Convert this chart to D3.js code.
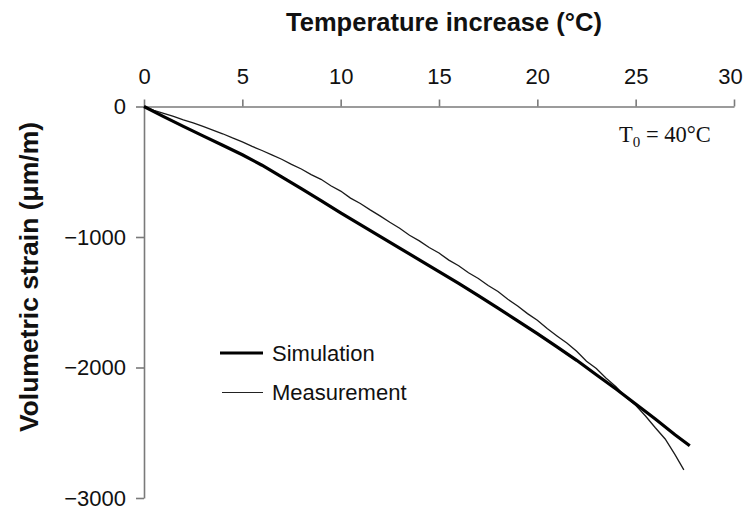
<!DOCTYPE html>
<html>
<head>
<meta charset="utf-8">
<script src="https://cdn.jsdelivr.net/npm/d3@7"></script>
<style>
  html, body { margin: 0; padding: 0; background: #fff; }
  svg { display: block; }
</style>
</head>
<body>
<svg id="chart" width="745" height="510"></svg>
<script>
// ---- data ----
const xTicks = [0, 5, 10, 15, 20, 25, 30];
const yTicks = [0, -1000, -2000, -3000];

const simT = [0, 1, 2, 3, 4, 5, 6, 7, 8, 9, 10, 11, 12, 13, 14, 15, 16, 17, 18, 19, 20, 21, 22, 23, 24, 25, 26, 27, 27.75];
const simStrain = [0, -78, -152, -225, -297, -370, -450, -540, -630, -722, -815, -905, -995, -1085, -1175, -1265, -1355, -1450, -1545, -1642, -1740, -1842, -1945, -2055, -2165, -2280, -2395, -2515, -2600];

const measT = [0, 0.5, 1, 1.5, 2, 2.5, 3, 3.5, 4, 4.5, 5, 5.5, 6, 6.5, 7, 7.5, 8, 8.5, 9, 9.5, 10, 10.5, 11, 11.5, 12, 12.5, 13, 13.5, 14, 14.5, 15, 15.5, 16, 16.5, 17, 17.5, 18, 18.5, 19, 19.5, 20, 20.5, 21, 21.5, 22, 22.5, 23, 23.5, 24, 24.5, 25, 25.5, 26, 26.5, 27, 27.45];
const measStrain = [0, -30, -52, -76, -103, -126, -153, -181, -209, -241, -271, -306, -337, -370, -404, -444, -479, -522, -558, -607, -648, -702, -743, -792, -838, -887, -933, -987, -1030, -1080, -1123, -1177, -1220, -1274, -1318, -1372, -1418, -1477, -1528, -1587, -1638, -1702, -1758, -1812, -1876, -1952, -2008, -2082, -2148, -2228, -2290, -2372, -2462, -2548, -2668, -2785];

// ---- layout ----
const svg = d3.select("#chart");
const x = d3.scaleLinear().domain([0, 30]).range([144, 734]);
const y = d3.scaleLinear().domain([0, -3000]).range([106.5, 498]);
const axisColor = "#7a7a7a";
const textColor = "#111";

// x axis (top, ticks pointing up)
const xAxis = svg.append("g")
  .attr("transform", `translate(0,${y(0)})`)
  .call(d3.axisTop(x).tickValues(xTicks).tickSize(7).tickSizeOuter(0).tickPadding(16).tickFormat(d3.format("d")));
xAxis.select(".domain").attr("stroke", axisColor).attr("stroke-width", 1.6);
xAxis.selectAll(".tick line").attr("stroke", axisColor).attr("stroke-width", 1.6);
xAxis.selectAll(".tick text").attr("fill", textColor)
  .style("font-family", "'Liberation Sans', Arial, sans-serif").style("font-size", "22px")
  .attr("dx", d => d === 30 ? -4 : 0);

// y axis (left)
const yAxis = svg.append("g")
  .attr("transform", `translate(${x(0)},0)`)
  .call(d3.axisLeft(y).tickValues(yTicks).tickSize(8).tickSizeOuter(0).tickPadding(10)
    .tickFormat(d => d === 0 ? "0" : "\u2212" + Math.abs(d)));
yAxis.select(".domain").attr("stroke", axisColor).attr("stroke-width", 1.6);
yAxis.selectAll(".tick line").attr("stroke", axisColor).attr("stroke-width", 1.6);
yAxis.selectAll(".tick text").attr("fill", textColor)
  .style("font-family", "'Liberation Sans', Arial, sans-serif").style("font-size", "22px");

// axis titles
svg.append("text")
  .attr("x", 444).attr("y", 31)
  .attr("text-anchor", "middle")
  .attr("fill", textColor)
  .style("font-family", "'Liberation Sans', Arial, sans-serif")
  .style("font-size", "25.5px").style("font-weight", "bold")
  .text("Temperature increase (°C)");

svg.append("text")
  .attr("transform", "translate(38,277) rotate(-90)")
  .attr("text-anchor", "middle")
  .attr("fill", textColor)
  .style("font-family", "'Liberation Sans', Arial, sans-serif")
  .style("font-size", "26.5px").style("font-weight", "bold")
  .text("Volumetric strain (μm/m)");

// lines
const line = d3.line().x(d => x(d[0])).y(d => y(d[1]));
svg.append("path")
  .datum(measT.map((t, i) => [t, measStrain[i]]))
  .attr("d", line)
  .attr("fill", "none").attr("stroke", "#1a1a1a").attr("stroke-width", 1.3);
svg.append("path")
  .datum(simT.map((t, i) => [t, simStrain[i]]))
  .attr("d", line)
  .attr("fill", "none").attr("stroke", "#000").attr("stroke-width", 3.2);

// legend
const legend = svg.append("g");
legend.append("line").attr("x1", 220).attr("x2", 263).attr("y1", 353).attr("y2", 353)
  .attr("stroke", "#000").attr("stroke-width", 3.2);
legend.append("line").attr("x1", 222).attr("x2", 263).attr("y1", 392.5).attr("y2", 392.5)
  .attr("stroke", "#222").attr("stroke-width", 1.2);
legend.append("text").attr("x", 272).attr("y", 361).attr("fill", textColor)
  .style("font-family", "'Liberation Sans', Arial, sans-serif").style("font-size", "22px")
  .text("Simulation");
legend.append("text").attr("x", 272).attr("y", 400).attr("fill", textColor)
  .style("font-family", "'Liberation Sans', Arial, sans-serif").style("font-size", "22px")
  .text("Measurement");

// annotation T0 = 40°C
const ann = svg.append("text").attr("x", 619).attr("y", 142).attr("fill", textColor)
  .style("font-family", "'Liberation Serif', 'Times New Roman', serif").style("font-size", "22.5px");
ann.append("tspan").text("T");
ann.append("tspan").attr("dy", 5).style("font-size", "15px").text("0");
ann.append("tspan").attr("dy", -5).text(" = 40°C");
</script>
</body>
</html>
